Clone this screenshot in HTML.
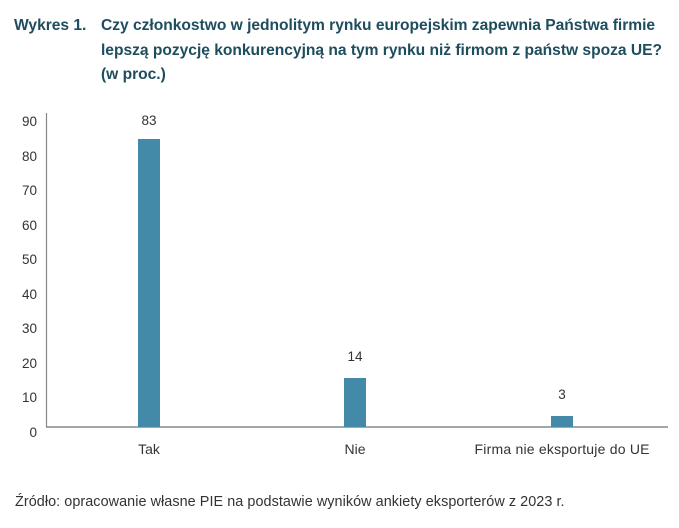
<!DOCTYPE html>
<html><head><meta charset="utf-8"><style>
body{margin:0;width:679px;height:528px;background:#fff;font-family:"Liberation Sans",sans-serif;position:relative;overflow:hidden}
.t{position:absolute;font-weight:bold;color:#1e4d5e;font-size:15.6px;line-height:24.5px;letter-spacing:-0.02px;white-space:nowrap}
.s{position:absolute;font-size:14.4px;color:#333;white-space:nowrap;letter-spacing:0.06px}
</style></head><body>
<div class="t" style="left:14px;top:14px">Wykres 1.</div>
<div class="t" style="left:101px;top:14px">Czy członkostwo w jednolitym rynku europejskim zapewnia Państwa firmie<br>lepszą pozycję konkurencyjną na tym rynku niż firmom z państw spoza UE?<br>(w proc.)</div>
<svg width="679" height="528" style="position:absolute;left:0;top:0" font-family="Liberation Sans, sans-serif" font-size="14" fill="#333">
<line x1="46.5" y1="113" x2="46.5" y2="427" stroke="#888" stroke-width="1.2"/>
<line x1="46" y1="427" x2="668" y2="427" stroke="#888" stroke-width="1.5"/>
<g text-anchor="end" font-size="13.5">
<text x="37" y="126">90</text><text x="37" y="161">80</text><text x="37" y="195">70</text><text x="37" y="230">60</text><text x="37" y="264">50</text><text x="37" y="299">40</text><text x="37" y="333">30</text><text x="37" y="368">20</text><text x="37" y="402">10</text><text x="37" y="437">0</text>
</g>
<rect x="138" y="139" width="22" height="288" fill="#428aa7"/>
<rect x="344" y="378" width="22" height="49" fill="#428aa7"/>
<rect x="551" y="416" width="22" height="11" fill="#428aa7"/>
<g text-anchor="middle">
<text x="149" y="125" font-size="13.5">83</text><text x="355" y="361" font-size="13.5">14</text><text x="562" y="399" font-size="13.5">3</text>
<text x="149" y="454">Tak</text><text x="355" y="454">Nie</text><text x="562" y="454" textLength="175">Firma nie eksportuje do UE</text>
</g>
</svg>
<div class="s" style="left:15px;top:494px">Źródło: opracowanie własne PIE na podstawie wyników ankiety eksporterów z 2023 r.</div>
</body></html>
